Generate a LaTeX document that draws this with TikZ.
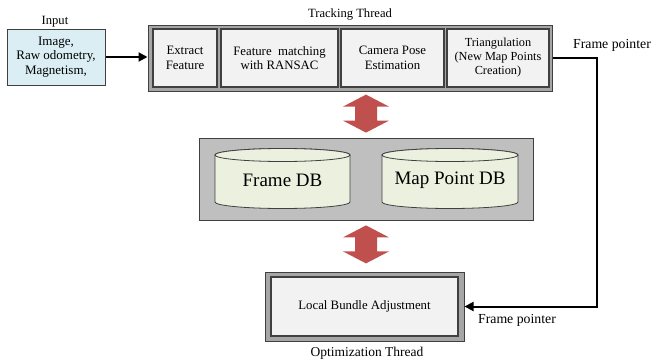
\documentclass[tikz,border=0pt]{standalone}
\usepackage{fontspec}
\setmainfont{Liberation Serif}
\usetikzlibrary{arrows.meta,calc}
\definecolor{inblue}{HTML}{DAEEF3}
\definecolor{bandgray}{HTML}{A6A6A6}
\definecolor{dbgray}{HTML}{BFBFBF}
\definecolor{boxfill}{HTML}{F2F2F2}
\definecolor{cylfill}{HTML}{EBF1DE}
\definecolor{arrowred}{HTML}{C0504D}
\definecolor{edge}{HTML}{404040}
\tikzset{
  x=1pt,y=1pt,
  outerbox/.style={draw=edge, line width=1pt, fill=bandgray, inner sep=0pt},
  innerbox/.style={draw=edge, line width=1.3pt, fill=boxfill, inner sep=0pt, align=center,
    font=\fontsize{12.8}{14.5}\selectfont},
  lbl/.style={font=\fontsize{12.6}{14}\selectfont, inner sep=0pt},
  cyl/.style={draw=edge, line width=0.8pt, fill=cylfill},
  flow/.style={line width=2pt, -{Triangle[length=9pt,width=9pt]}},
  dblarrow/.pic={\fill[arrowred] (0,19) -- (23,7) -- (11,7) -- (11,-7) -- (23,-7) -- (0,-19)
      -- (-23,-7) -- (-11,-7) -- (-11,7) -- (-23,7) -- cycle;}
}
\begin{document}
\begin{tikzpicture}
\useasboundingbox (0,0) rectangle (652,360);
% input
\node[draw=edge, line width=1pt, fill=inblue, minimum width=98, minimum height=56, align=center,
  font=\fontsize{13}{14.5}\selectfont, inner sep=0pt] (input) at (56,303)
  {Image,\\Raw odometry,\\Magnetism,};
\node[lbl] (inlbl) at (55,338) {Input};
% tracking thread
\node[outerbox, minimum width=404, minimum height=66] (track) at (350,302) {};
\node[lbl] (trlbl) at (350,346) {Tracking Thread};
\node[innerbox, minimum width=64, minimum height=58] (ext) at (185,302) {Extract\\Feature};
\node[innerbox, minimum width=117, minimum height=58] (fm) at (279.5,302) {Feature\ \ matching\\with RANSAC};
\node[innerbox, minimum width=103, minimum height=58] (cam) at (392.5,302) {Camera Pose\\Estimation};
\node[innerbox, minimum width=102, minimum height=58, font=\fontsize{12.3}{14}\selectfont] (tri) at (498,302) {Triangulation\\(New Map Points\\Creation)};
% database
\node[draw=edge, line width=0.8pt, fill=dbgray, minimum width=334, minimum height=82, inner sep=0pt] (db) at (366,181) {};
\fill[cyl] (215,205) -- (215,158) arc[start angle=180,end angle=360,x radius=67.5,y radius=6.5]
  -- (350,205) arc[start angle=0,end angle=180,x radius=67.5,y radius=6.5] -- cycle;
\draw[cyl] (282.5,205) ellipse[x radius=67.5,y radius=6.5];
\node[font=\fontsize{19}{22}\selectfont, inner sep=0pt] (fdb) at (282.5,180) {Frame DB};
\fill[cyl] (382,205) -- (382,158) arc[start angle=180,end angle=360,x radius=68,y radius=6.5]
  -- (518,205) arc[start angle=0,end angle=180,x radius=68,y radius=6.5] -- cycle;
\draw[cyl] (450,205) ellipse[x radius=68,y radius=6.5];
\node[font=\fontsize{19}{22}\selectfont, inner sep=0pt] (mdb) at (450,180) {Map Point DB};
% optimization thread
\node[outerbox, minimum width=199, minimum height=69] (ba) at (364.5,53.5) {};
\node[innerbox, minimum width=187, minimum height=59] (bain) at (364.5,53.5) {Local Bundle Adjustment};
\node[font=\fontsize{13.5}{15}\selectfont, inner sep=0pt] (oplbl) at (367,7) {Optimization Thread};
% red double arrows
\pic at ($(db.north)+(0,24)$) {dblarrow};
\pic at ($(db.south)+(0,-24)$) {dblarrow};
% connectors
\draw[flow] (input.east) -- (input.east -| track.west);
\coordinate (fpx) at (597,0);
\draw[flow] (track.east) -- (track.east -| fpx) |- (ba.east);
\node[font=\fontsize{13.8}{15}\selectfont, inner sep=0pt] (fp1) at (612,315) {Frame pointer};
\node[font=\fontsize{13.8}{15}\selectfont, inner sep=0pt] (fp2) at (517,40) {Frame pointer};
\end{tikzpicture}
\end{document}
